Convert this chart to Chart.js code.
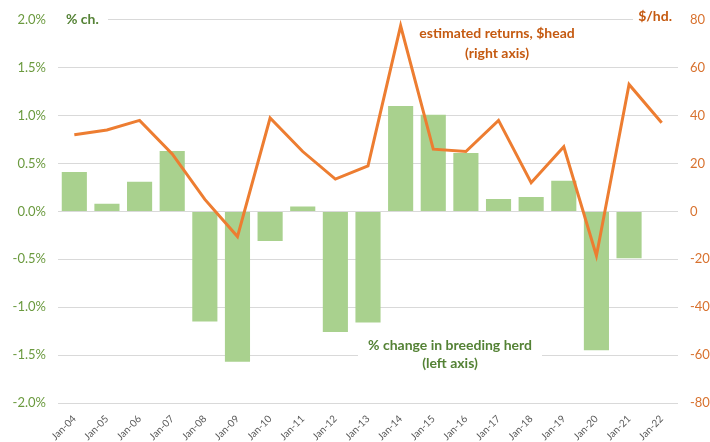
<html>
  <head>
    <script src="https://cdn.jsdelivr.net/npm/chart.js@4"></script>
  </head>
  <body style="margin:0;background:#fff">
    <canvas id="herdChart" width="710" height="442"></canvas>
    <script>
      let years = ["Jan-04", "Jan-05", "Jan-06", "Jan-07", "Jan-08", "Jan-09", "Jan-10", "Jan-11", "Jan-12", "Jan-13",
                   "Jan-14", "Jan-15", "Jan-16", "Jan-17", "Jan-18", "Jan-19", "Jan-20", "Jan-21", "Jan-22"];
      // % change in breeding herd (left axis)
      let herdChange = [0.41, 0.08, 0.31, 0.63, -1.15, -1.57, -0.31, 0.05, -1.26, -1.16,
                        1.10, 1.01, 0.61, 0.13, 0.15, 0.32, -1.45, -0.49, null];
      // estimated returns, $/head (right axis)
      let returns = [32, 34, 38, 24, 5, -10.5, 39, 25, 13.5, 19,
                     77.5, 26, 25, 38, 12, 27, -18.5, 53, 37];

      const green = '#A9D18E';
      const orange = '#ED7D31';
      const fontFamily = 'Lato, "Open Sans", sans-serif';

      // text boxes drawn on top of the plot, like the Excel labels
      const labelPlugin = {
        id: 'labels',
        afterDatasetsDraw(chart) {
          const ctx = chart.ctx;
          const a = chart.chartArea;
          ctx.save();
          ctx.font = 'bold 14px ' + fontFamily;
          ctx.textBaseline = 'middle';

          ctx.fillStyle = '#fff';
          ctx.fillRect(a.left, a.top - 10, 50, 20);
          ctx.fillRect(a.right - 45, a.top - 10, 45, 20);
          ctx.fillRect(a.left + 300, a.bottom - 60, 184, 38);

          ctx.textAlign = 'left';
          ctx.fillStyle = '#548235';
          ctx.fillText('% ch.', a.left + 8, a.top);
          ctx.textAlign = 'center';
          ctx.fillText('% change in breeding herd', a.left + 392, a.bottom - 58);
          ctx.fillText('(left axis)', a.left + 392, a.bottom - 40);

          ctx.fillStyle = '#C55A11';
          ctx.textAlign = 'right';
          ctx.fillText('$/hd.', a.right - 6, a.top - 3);
          ctx.textAlign = 'center';
          ctx.fillText('estimated returns, $head', a.left + 439, a.top + 14);
          ctx.fillText('(right axis)', a.left + 439, a.top + 34);
          ctx.restore();
        }
      };

      window.onload = function() {
        window.herdChart = new Chart(document.getElementById("herdChart"), {
          data: {
            labels: years,
            datasets: [{
              type: 'line',
              data: returns,
              yAxisID: 'yRight',
              borderColor: orange,
              borderWidth: 3,
              pointRadius: 0,
              tension: 0,
              order: 1
            }, {
              type: 'bar',
              data: herdChange,
              yAxisID: 'yLeft',
              backgroundColor: green,
              barPercentage: 0.77,
              categoryPercentage: 1,
              order: 2
            }]
          },
          options: {
            responsive: false,
            animation: false,
            layout: { padding: { top: 19, right: 0, left: 0, bottom: 0 } },
            plugins: { legend: { display: false }, tooltip: { enabled: false } },
            scales: {
              x: {
                grid: { display: false },
                border: { display: false },
                ticks: {
                  color: '#595959',
                  font: { family: fontFamily, size: 10 },
                  minRotation: 45,
                  maxRotation: 45,
                  padding: 2
                },
                afterFit(s) { s.height = 39; }
              },
              yLeft: {
                position: 'left',
                min: -2, max: 2,
                grid: { color: '#D9D9D9', lineWidth: 1, drawTicks: false },
                border: { display: false },
                ticks: {
                  stepSize: 0.5,
                  color: '#6B9A3F',
                  font: { family: fontFamily, size: 13 },
                  padding: 12,
                  callback: v => v.toFixed(1) + '%'
                },
                afterFit(s) { s.width = 58; }
              },
              yRight: {
                position: 'right',
                min: -80, max: 80,
                grid: { display: false, drawTicks: false },
                border: { display: false },
                ticks: {
                  stepSize: 20,
                  color: '#D8722F',
                  font: { family: fontFamily, size: 13 },
                  padding: 12
                },
                afterFit(s) { s.width = 32; }
              }
            }
          },
          plugins: [labelPlugin]
        });
      }
    </script>
  </body>
</html>
